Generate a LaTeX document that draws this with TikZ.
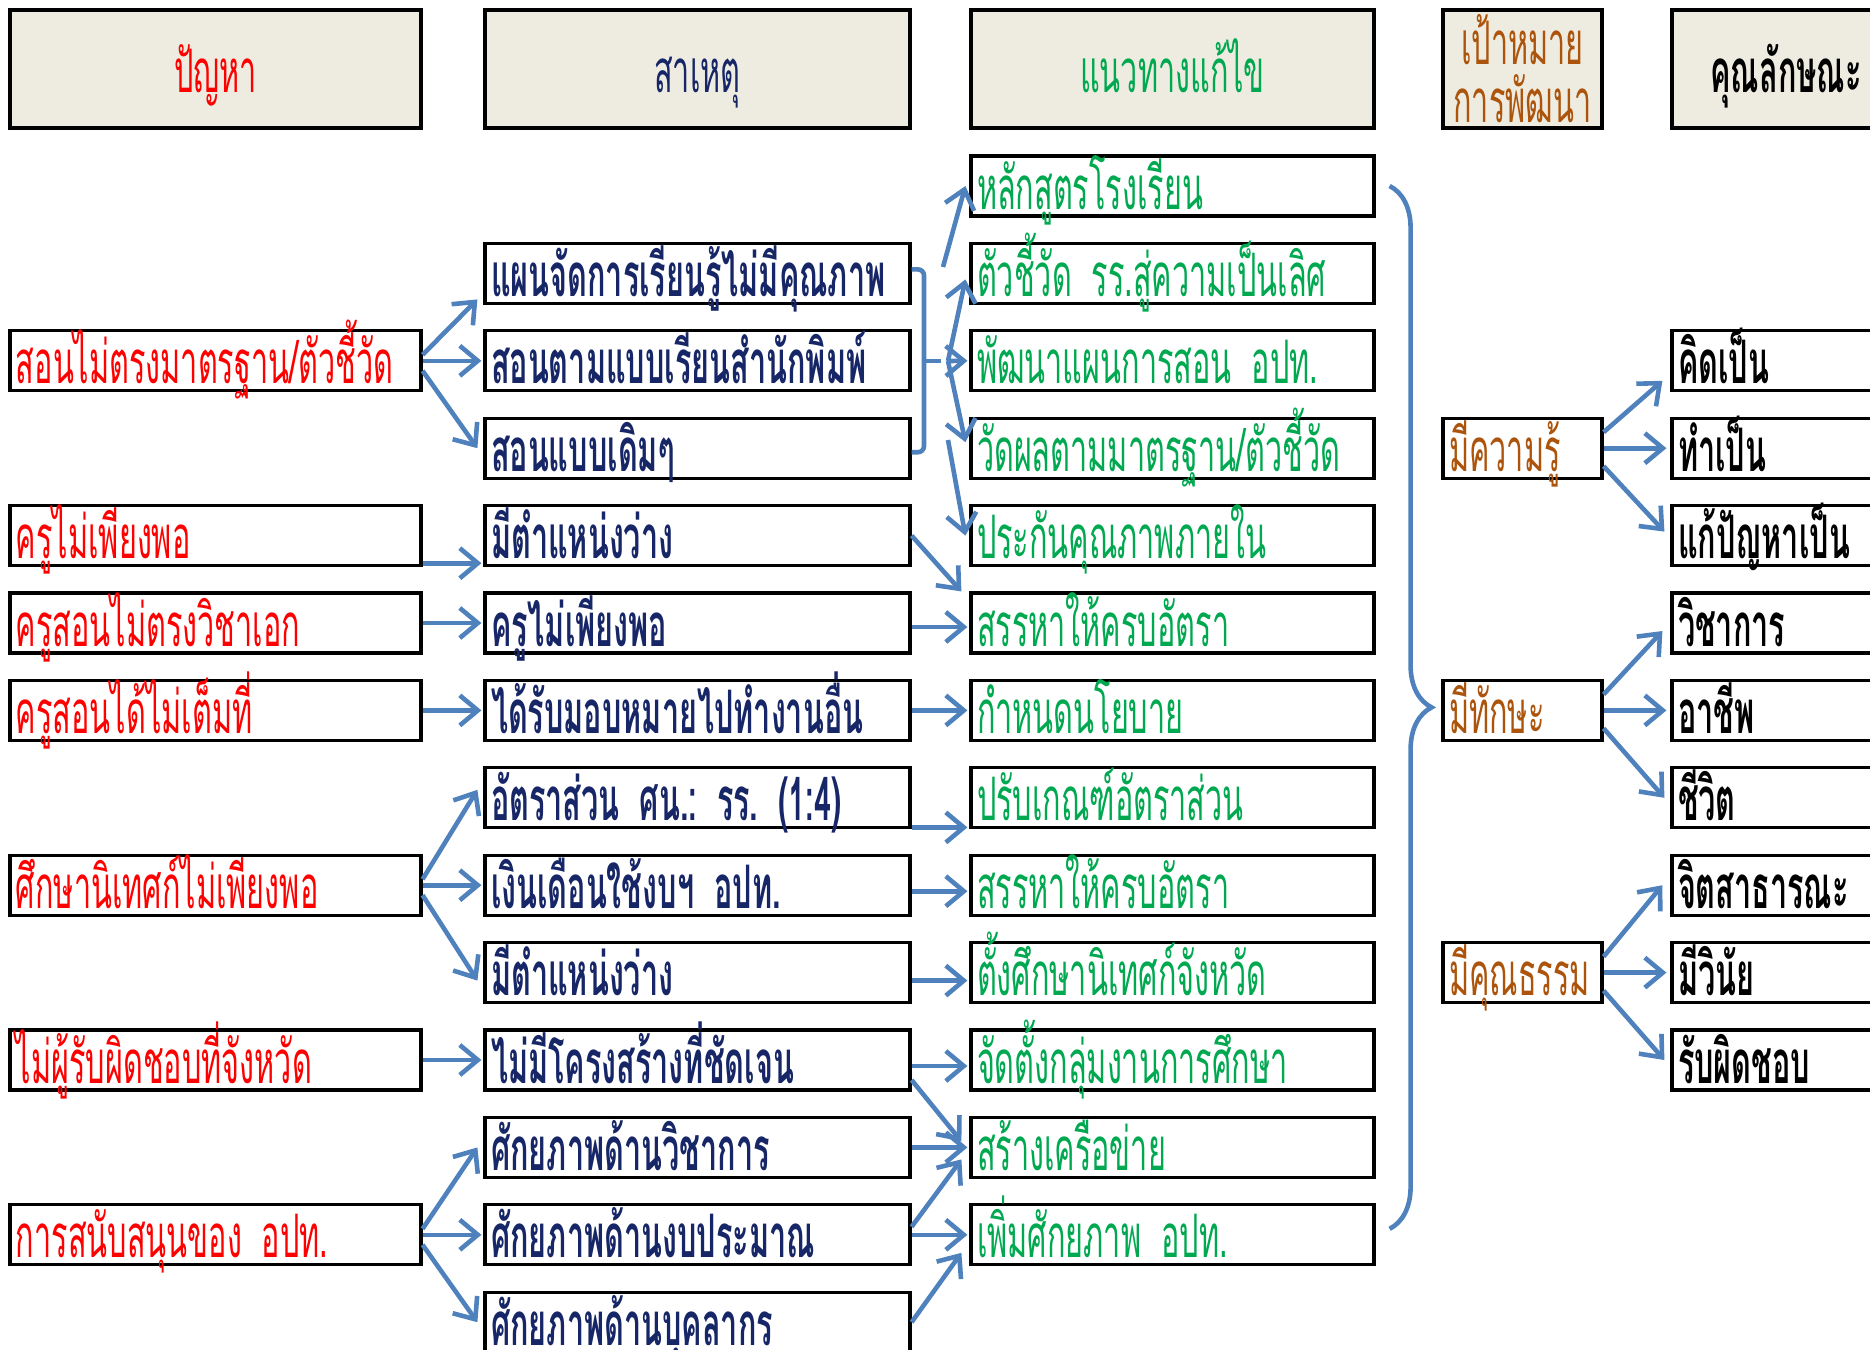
\documentclass[tikz,border=0pt]{standalone}
\usepackage{fontspec}
\usepackage{tikz}
\usetikzlibrary{arrows.meta}
\usetikzlibrary{decorations.pathreplacing}
\newfontfamily\thaifont[Script=Thai,FakeStretch=0.51]{Loma}
\newcommand\kastfont{\thaifont\fontsize{30}{34}\selectfont\frenchspacing\spaceskip=5pt plus 1pt\relax}
\newcommand\kastbold{\thaifont\bfseries\fontsize{30}{34}\selectfont\frenchspacing\spaceskip=5pt plus 1pt\relax}
\definecolor{probred}{RGB}{255,0,0}
\definecolor{causeblue}{RGB}{22,38,102}
\definecolor{solgreen}{RGB}{0,168,80}
\definecolor{goalbrown}{RGB}{172,84,12}
\definecolor{headfill}{RGB}{238,236,225}
\definecolor{linkblue}{RGB}{79,129,189}
\tikzset{
    kast/.style={
           rectangle,
           draw=black, line width=1.6pt,
           minimum height=30pt,
           inner xsep=3pt, inner ysep=0pt,
           text height=25pt, text depth=2pt,
           align=left,
           font=\kastfont},
    kopf/.style={
           fill=headfill,
           minimum height=59pt,
           align=center},
    probkast/.style={kast, text width=199.5pt, text=probred},
    oorzkast/.style={kast, text width=206.5pt, text=causeblue, font=\kastbold},
    oplkast/.style={kast, text width=195.5pt, text=solgreen},
    doelkast/.style={kast, text width=73.5pt, text=goalbrown},
    kenmkast/.style={kast, text width=108pt, text=black, font=\kastbold},
    link/.style={
           draw=linkblue, line width=2.3pt,
           -{Straight Barb[length=9pt,width=15pt]}}
    }
\begin{document}
\begin{tikzpicture}[x=0.5pt,y=-0.5pt]
\useasboundingbox (0,0) rectangle (1870,1350);
% kopjes
\node[probkast,kopf] (hA) at (215.5,69) {ปัญหา};
\node[oorzkast,kopf,font=\kastfont] (hB) at (697.5,69) {สาเหตุ};
\node[oplkast,kopf] (hC) at (1172.5,69) {แนวทางแก้ไข};
\node[doelkast,kopf,text height={},text depth={},font=\thaifont\fontsize{30}{29}\selectfont] (hD) at (1522.5,69) {เป้าหมาย\\การพัฒนา};
\node[kenmkast,kopf] (hE) at (1786,69) {คุณลักษณะ};
% ปัญหา
\node[probkast] (A2) at (215.5,360.8) {สอนไม่ตรงมาตรฐาน/ตัวชี้วัด};
\node[probkast] (A4) at (215.5,535.6) {ครูไม่เพียงพอ};
\node[probkast] (A5) at (215.5,623.0) {ครูสอนไม่ตรงวิชาเอก};
\node[probkast] (A6) at (215.5,710.4) {ครูสอนได้ไม่เต็มที่};
\node[probkast] (A8) at (215.5,885.2) {ศึกษานิเทศก์ไม่เพียงพอ};
\node[probkast] (A10) at (215.5,1060.0) {ไม่ผู้รับผิดชอบที่จังหวัด};
\node[probkast] (A12) at (215.5,1234.8) {การสนับสนุนของ อปท.};
% สาเหตุ
\node[oorzkast] (B1) at (697.5,273.4) {แผนจัดการเรียนรู้ไม่มีคุณภาพ};
\node[oorzkast] (B2) at (697.5,360.8) {สอนตามแบบเรียนสำนักพิมพ์};
\node[oorzkast] (B3) at (697.5,448.2) {สอนแบบเดิมๆ};
\node[oorzkast] (B4) at (697.5,535.6) {มีตำแหน่งว่าง};
\node[oorzkast] (B5) at (697.5,623.0) {ครูไม่เพียงพอ};
\node[oorzkast] (B6) at (697.5,710.4) {ได้รับมอบหมายไปทำงานอื่น};
\node[oorzkast] (B7) at (697.5,797.8) {อัตราส่วน ศน.: รร. (1:4)};
\node[oorzkast] (B8) at (697.5,885.2) {เงินเดือนใช้งบฯ อปท.};
\node[oorzkast] (B9) at (697.5,972.6) {มีตำแหน่งว่าง};
\node[oorzkast] (B10) at (697.5,1060.0) {ไม่มีโครงสร้างที่ชัดเจน};
\node[oorzkast] (B11) at (697.5,1147.4) {ศักยภาพด้านวิชาการ};
\node[oorzkast] (B12) at (697.5,1234.8) {ศักยภาพด้านงบประมาณ};
\node[oorzkast] (B13) at (697.5,1322.2) {ศักยภาพด้านบุคลากร};
% แนวทางแก้ไข
\node[oplkast] (C0) at (1172.5,186.0) {หลักสูตรโรงเรียน};
\node[oplkast] (C1) at (1172.5,273.4) {ตัวชี้วัด รร.สู่ความเป็นเลิศ};
\node[oplkast] (C2) at (1172.5,360.8) {พัฒนาแผนการสอน อปท.};
\node[oplkast] (C3) at (1172.5,448.2) {วัดผลตามมาตรฐาน/ตัวชี้วัด};
\node[oplkast] (C4) at (1172.5,535.6) {ประกันคุณภาพภายใน};
\node[oplkast] (C5) at (1172.5,623.0) {สรรหาให้ครบอัตรา};
\node[oplkast] (C6) at (1172.5,710.4) {กำหนดนโยบาย};
\node[oplkast] (C7) at (1172.5,797.8) {ปรับเกณฑ์อัตราส่วน};
\node[oplkast] (C8) at (1172.5,885.2) {สรรหาให้ครบอัตรา};
\node[oplkast] (C9) at (1172.5,972.6) {ตั้งศึกษานิเทศก์จังหวัด};
\node[oplkast] (C10) at (1172.5,1060.0) {จัดตั้งกลุ่มงานการศึกษา};
\node[oplkast] (C11) at (1172.5,1147.4) {สร้างเครือข่าย};
\node[oplkast] (C12) at (1172.5,1234.8) {เพิ่มศักยภาพ อปท.};
% เป้าหมาย
\node[doelkast] (D3) at (1522.5,448.2) {มีความรู้};
\node[doelkast] (D6) at (1522.5,710.4) {มีทักษะ};
\node[doelkast] (D9) at (1522.5,972.6) {มีคุณธรรม};
% คุณลักษณะ
\node[kenmkast] (E2) at (1786,360.8) {คิดเป็น};
\node[kenmkast] (E3) at (1786,448.2) {ทำเป็น};
\node[kenmkast] (E4) at (1786,535.6) {แก้ปัญหาเป็น};
\node[kenmkast] (E5) at (1786,623.0) {วิชาการ};
\node[kenmkast] (E6) at (1786,710.4) {อาชีพ};
\node[kenmkast] (E7) at (1786,797.8) {ชีวิต};
\node[kenmkast] (E8) at (1786,885.2) {จิตสาธารณะ};
\node[kenmkast] (E9) at (1786,972.6) {มีวินัย};
\node[kenmkast] (E10) at (1786,1060.0) {รับผิดชอบ};

% ปัญหา -> สาเหตุ
\draw[link] ([yshift=3pt]A2.east) -- ([xshift=-3pt,yshift=-13pt]B1.west);
\draw[link] (A2.east) -- ([xshift=-1pt]B2.west);
\draw[link] ([yshift=-5pt]A2.east) -- ([xshift=-3pt]B3.west);
\draw[link] ([yshift=2pt]A4.south east) -- ([xshift=-1pt,yshift=2pt]B4.south west);
\draw[link] (A5.east) -- ([xshift=-1pt]B5.west);
\draw[link] (A6.east) -- ([xshift=-1pt]B6.west);
\draw[link] ([yshift=3pt]A8.east) -- ([xshift=-3pt,yshift=4pt]B7.west);
\draw[link] (A8.east) -- ([xshift=-1pt]B8.west);
\draw[link] ([yshift=-5pt]A8.east) -- ([xshift=-3pt,yshift=-4pt]B9.west);
\draw[link] (A10.east) -- ([xshift=-1pt]B10.west);
\draw[link] ([yshift=3pt]A12.east) -- ([xshift=-3pt]B11.west);
\draw[link] (A12.east) -- ([xshift=-1pt]B12.west);
\draw[link] ([yshift=-5pt]A12.east) -- ([xshift=-3pt]B13.west);

% สาเหตุ -> แนวทางแก้ไข
\coordinate (waaier) at (948,361);
\draw[draw=linkblue,line width=2.3pt,rounded corners=3pt]
    ([yshift=2pt]B1.east) -| (924,361) |- ([yshift=-2pt]B3.east);
\draw[draw=linkblue,line width=2.3pt] (924,361) -- (941,361);
\draw[link] (943,267) -- ([xshift=-2pt]C0.west);
\draw[link] (waaier) -- ([xshift=-2pt,yshift=-3pt]C1.west);
\draw[link] (waaier) -- ([xshift=-1pt]C2.west);
\draw[link] (waaier) -- ([xshift=-2pt,yshift=3pt]C3.west);
\draw[link] (948,440) -- ([xshift=-2pt]C4.west);
\draw[link] (B4.east) -- ([xshift=-4pt]C5.north west);
\draw[link] ([yshift=-2pt]B5.east) -- ([xshift=-1pt,yshift=-2pt]C5.west);
\draw[link] (B6.east) -- ([xshift=-1pt]C6.west);
\draw[link] ([yshift=1pt]B7.south east) -- ([xshift=-1pt,yshift=1pt]C7.south west);
\draw[link] ([yshift=-3pt]B8.east) -- ([xshift=-1pt,yshift=-3pt]C8.west);
\draw[link] ([yshift=-4pt]B9.east) -- ([xshift=-1pt,yshift=-4pt]C9.west);
\draw[link] ([yshift=-3pt]B10.east) -- ([xshift=-1pt,yshift=-3pt]C10.west);
\draw[link] ([yshift=-10pt]B10.east) -- ([xshift=-4pt,yshift=3pt]C11.west);
\draw[link] (B11.east) -- ([xshift=-1pt]C11.west);
\draw[link] ([yshift=4pt]B12.east) -- ([xshift=-4pt,yshift=-6pt]C11.west);
\draw[link] (B12.east) -- ([xshift=-1pt]C12.west);
\draw[link] (B13.east) -- ([xshift=-4pt,yshift=-9pt]C12.west);

% แนวทางแก้ไข -> เป้าหมาย
\draw[draw=linkblue,line width=2.3pt,decorate,decoration={brace,amplitude=21pt}]
    ([xshift=7pt]C0.east) -- ([xshift=7pt,yshift=3pt]C12.east);

% เป้าหมาย -> คุณลักษณะ
\draw[link] ([yshift=8pt]D3.east) -- ([xshift=-4pt,yshift=-10pt]E2.west);
\draw[link] (D3.east) -- ([xshift=-2pt]E3.west);
\draw[link] ([yshift=-9pt]D3.east) -- ([xshift=-3pt,yshift=2pt]E4.west);
\draw[link] ([yshift=8pt]D6.east) -- ([xshift=-4pt,yshift=-4pt]E5.west);
\draw[link] (D6.east) -- ([xshift=-2pt]E6.west);
\draw[link] ([yshift=-9pt]D6.east) -- ([xshift=-3pt]E7.west);
\draw[link] ([yshift=8pt]D9.east) -- ([xshift=-4pt]E8.west);
\draw[link] (D9.east) -- ([xshift=-2pt]E9.west);
\draw[link] ([yshift=-9pt]D9.east) -- ([xshift=-3pt]E10.west);
\end{tikzpicture}
\end{document}
